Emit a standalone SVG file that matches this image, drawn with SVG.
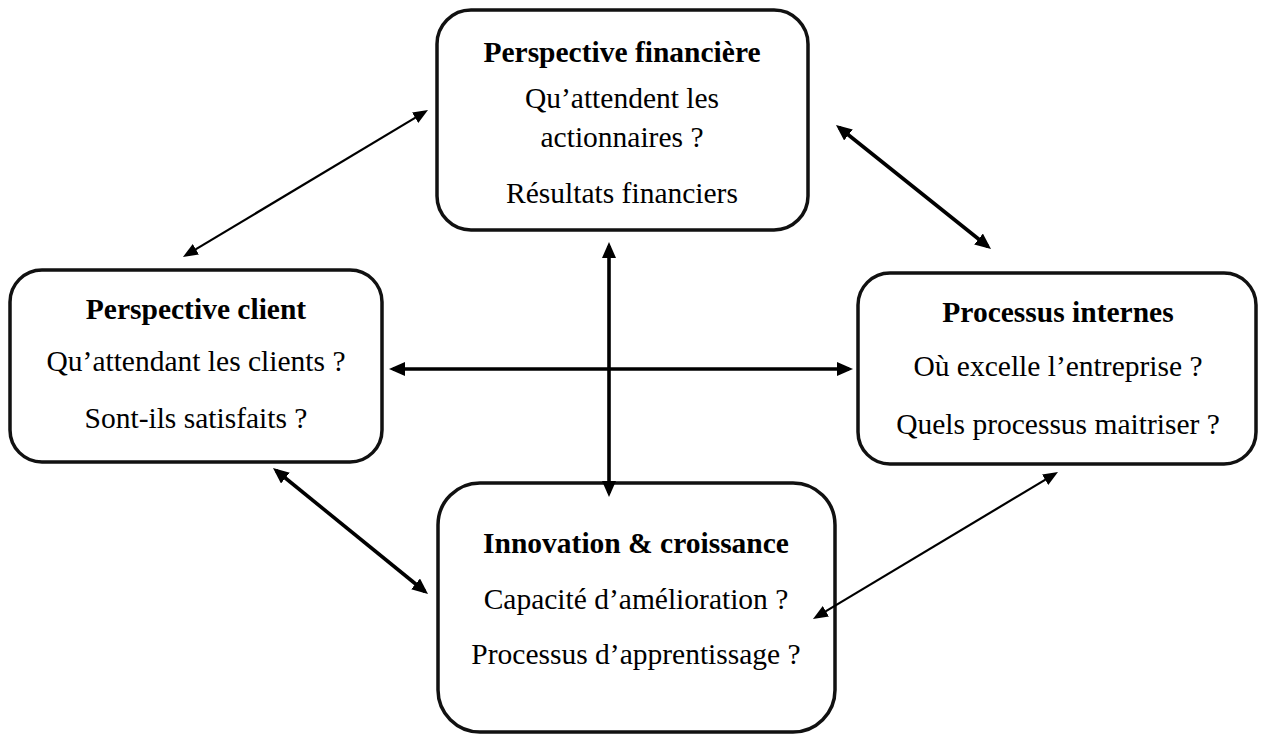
<svg xmlns="http://www.w3.org/2000/svg" width="1261" height="735" viewBox="0 0 1261 735">
  <style>
    .box { fill: #ffffff; stroke: #111111; stroke-width: 3.5; }
    .title { font-family: "Liberation Serif", "Times New Roman", serif; font-weight: bold; font-size: 29.5px; fill: #000; text-anchor: middle; }
    .body { font-family: "Liberation Serif", "Times New Roman", serif; font-size: 29.5px; fill: #000; text-anchor: middle; }
    .thick { stroke: #000; stroke-width: 3.6; fill: none; marker-start: url(#headThick); marker-end: url(#headThick); }
    .thin { stroke: #000; stroke-width: 2.2; fill: none; marker-start: url(#headThin); marker-end: url(#headThin); }
  </style>
  <defs>
    <marker id="headThick" markerUnits="userSpaceOnUse" viewBox="0 0 16 14" markerWidth="16" markerHeight="14" refX="12" refY="7" orient="auto-start-reverse">
      <path d="M0,0 L16,7 L0,14 z" fill="#000"/>
    </marker>
    <marker id="headThin" markerUnits="userSpaceOnUse" viewBox="0 0 15 12" markerWidth="15" markerHeight="12" refX="11" refY="6" orient="auto-start-reverse">
      <path d="M0,0 L15,6 L0,12 z" fill="#000"/>
    </marker>
  </defs>

  <rect width="1261" height="735" fill="#ffffff"/>

  <!-- Nodes -->
  <g id="finance">
    <rect class="box" x="437" y="10" width="371" height="220" rx="34" ry="34"/>
    <text class="title" x="622" y="62">Perspective financière</text>
    <text class="body" x="622" y="108">Qu’attendent les</text>
    <text class="body" x="622" y="147">actionnaires ?</text>
    <text class="body" x="622" y="203">Résultats financiers</text>
  </g>

  <g id="client">
    <rect class="box" x="10" y="270" width="372" height="192" rx="32" ry="32"/>
    <text class="title" x="196" y="319">Perspective client</text>
    <text class="body" x="196" y="371">Qu’attendant les clients ?</text>
    <text class="body" x="196" y="428">Sont-ils satisfaits ?</text>
  </g>

  <g id="processus">
    <rect class="box" x="858" y="273" width="398" height="191" rx="32" ry="32"/>
    <text class="title" x="1058" y="322">Processus internes</text>
    <text class="body" x="1058" y="376">Où excelle l’entreprise ?</text>
    <text class="body" x="1058" y="434">Quels processus maitriser ?</text>
  </g>

  <g id="innovation">
    <rect class="box" x="438" y="483" width="397" height="249" rx="42" ry="42"/>
    <text class="title" x="636" y="553">Innovation &amp; croissance</text>
    <text class="body" x="636" y="609">Capacité d’amélioration ?</text>
    <text class="body" x="636" y="664">Processus d’apprentissage ?</text>
  </g>

  <!-- Connectors -->
  <g id="connectors">
    <line class="thin" x1="186.4" y1="254.9" x2="424.6" y2="112.1"/>
    <line class="thick" x1="839.1" y1="127.5" x2="987.9" y2="246.5"/>
    <line class="thick" x1="609" y1="246" x2="609" y2="493"/>
    <line class="thick" x1="393" y1="369" x2="849" y2="369"/>
    <line class="thick" x1="276.1" y1="470.5" x2="424.9" y2="591.5"/>
    <line class="thin" x1="1054.6" y1="474.1" x2="816.4" y2="616.9"/>
  </g>
</svg>
